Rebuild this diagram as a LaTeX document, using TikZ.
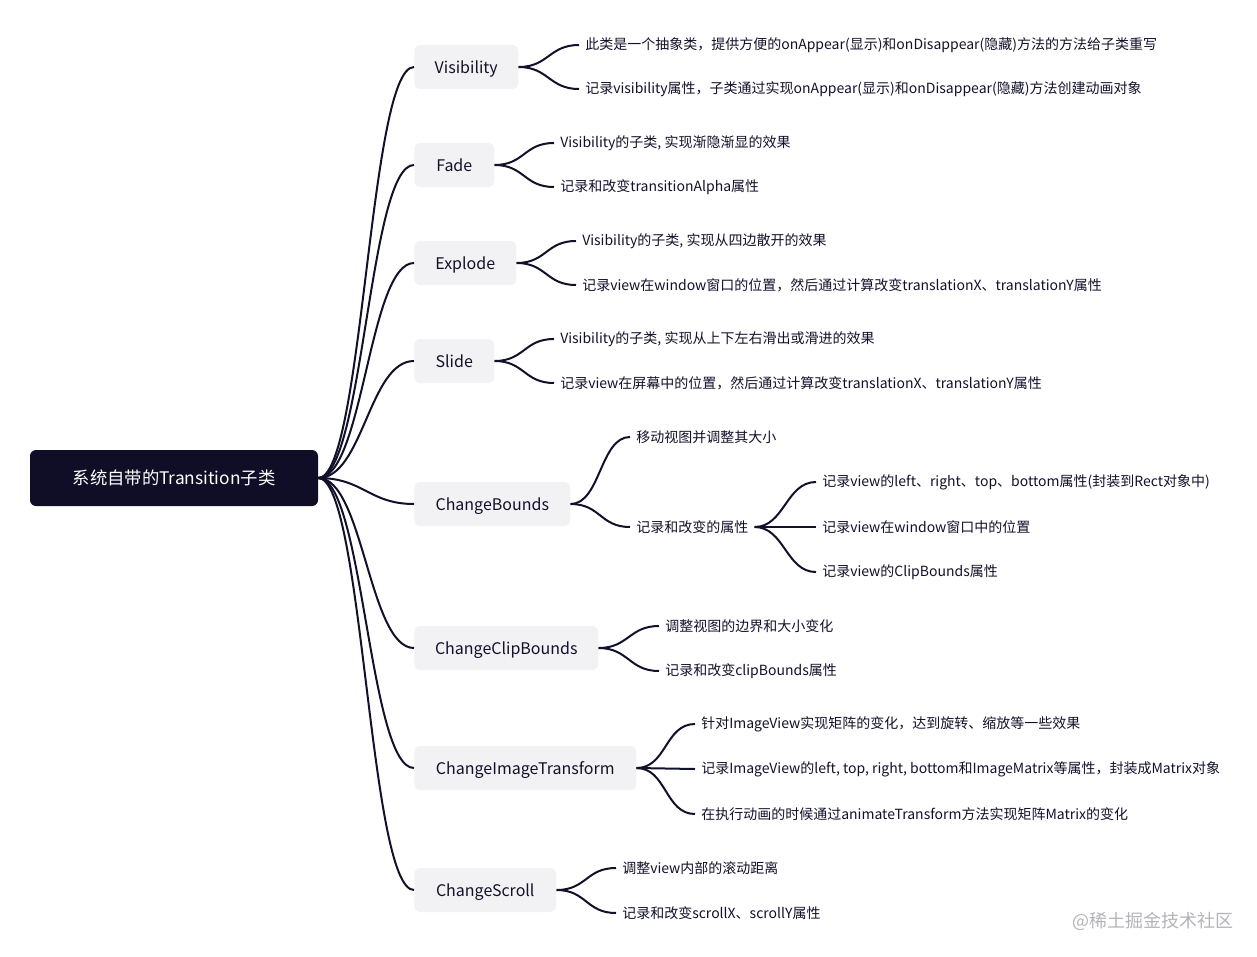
\documentclass[tikz,border=0pt]{standalone}
\usepackage{fontspec}
\setmainfont{Noto Sans CJK SC}
\definecolor{ink}{HTML}{12112A}
\definecolor{rootbg}{HTML}{100E26}
\definecolor{boxbg}{HTML}{F2F2F4}
\definecolor{mark}{HTML}{B4B4B8}
\tikzset{
 rootbox/.style={fill=rootbg,text=white,rounded corners=4.5pt,minimum width=216pt,minimum height=42pt,font=\fontsize{13}{15}\selectfont},
 catbox/.style={fill=boxbg,rounded corners=4pt,anchor=west,minimum height=33pt,inner xsep=0pt,text height=11pt,text depth=2pt,text=ink,font=\fontsize{12}{14}\selectfont},
 leaf/.style={anchor=west,inner xsep=4.5pt,inner ysep=2pt,text=ink,font=\fontsize{10.5}{12}\selectfont},
 link/.style={draw=ink,line width=1.5pt},
}
\begin{document}
\begin{tikzpicture}[x=.75pt,y=-.75pt]
 \useasboundingbox (0,0) rectangle (1257,957);
 \node[rootbox] (root) at (174,478) {系统自带的Transition子类};
 % categories
 \foreach \n/\y/\w/\t in {vis/67/104/Visibility,fade/165/80/Fade,expl/263/102/Explode,slide/361/80/Slide,bounds/504/156/ChangeBounds,clip/648/184/ChangeClipBounds,image/768/222/ChangeImageTransform,scroll/890/142/ChangeScroll}{
  \node[catbox,minimum width=\w*.75pt] (\n) at (414,\y) {\t};
  \draw[link] (root.east) .. controls +(45,0) and +(-45,0) .. (\n.west);}
 % leaves
 \node[leaf] (vis1) at (579,45) {此类是一个抽象类，提供方便的onAppear(显示)和onDisappear(隐藏)方法的方法给子类重写};
 \node[leaf] (vis2) at (579,89) {记录visibility属性，子类通过实现onAppear(显示)和onDisappear(隐藏)方法创建动画对象};
 \node[leaf] (fade1) at (554,143) {Visibility的子类, 实现渐隐渐显的效果};
 \node[leaf] (fade2) at (554,187) {记录和改变transitionAlpha属性};
 \node[leaf] (expl1) at (576,241) {Visibility的子类, 实现从四边散开的效果};
 \node[leaf] (expl2) at (576,285) {记录view在window窗口的位置，然后通过计算改变translationX、translationY属性};
 \node[leaf] (slide1) at (554,339) {Visibility的子类, 实现从上下左右滑出或滑进的效果};
 \node[leaf] (slide2) at (554,383) {记录view在屏幕中的位置，然后通过计算改变translationX、translationY属性};
 \node[leaf] (bounds1) at (630,437) {移动视图并调整其大小};
 \node[leaf] (bounds2) at (630,527) {记录和改变的属性};
 \node[leaf] (prop1) at (816,482) {记录view的left、right、top、bottom属性(封装到Rect对象中)};
 \node[leaf] (prop2) at (816,527) {记录view在window窗口中的位置};
 \node[leaf] (prop3) at (816,572) {记录view的ClipBounds属性};
 \node[leaf] (clip1) at (659,626) {调整视图的边界和大小变化};
 \node[leaf] (clip2) at (659,671) {记录和改变clipBounds属性};
 \node[leaf] (image1) at (695,724) {针对ImageView实现矩阵的变化，达到旋转、缩放等一些效果};
 \node[leaf] (image2) at (695,769) {记录ImageView的left, top, right, bottom和ImageMatrix等属性，封装成Matrix对象};
 \node[leaf] (image3) at (695,814) {在执行动画的时候通过animateTransform方法实现矩阵Matrix的变化};
 \node[leaf] (scroll1) at (616,868) {调整view内部的滚动距离};
 \node[leaf] (scroll2) at (616,913) {记录和改变scrollX、scrollY属性};
 \foreach \a/\b in {vis/vis1,vis/vis2,fade/fade1,fade/fade2,expl/expl1,expl/expl2,slide/slide1,slide/slide2,bounds/bounds1,bounds/bounds2,bounds2/prop1,bounds2/prop2,bounds2/prop3,clip/clip1,clip/clip2,image/image1,image/image2,image/image3,scroll/scroll1,scroll/scroll2}
  \draw[link] (\a.east) .. controls +(30,0) and +(-30,0) .. (\b.west);
 \node[anchor=west,inner sep=0pt,text=mark,font=\fontsize{13.5}{15}\selectfont] (mark) at (1072,921) {@稀土掘金技术社区};
\end{tikzpicture}
\end{document}
